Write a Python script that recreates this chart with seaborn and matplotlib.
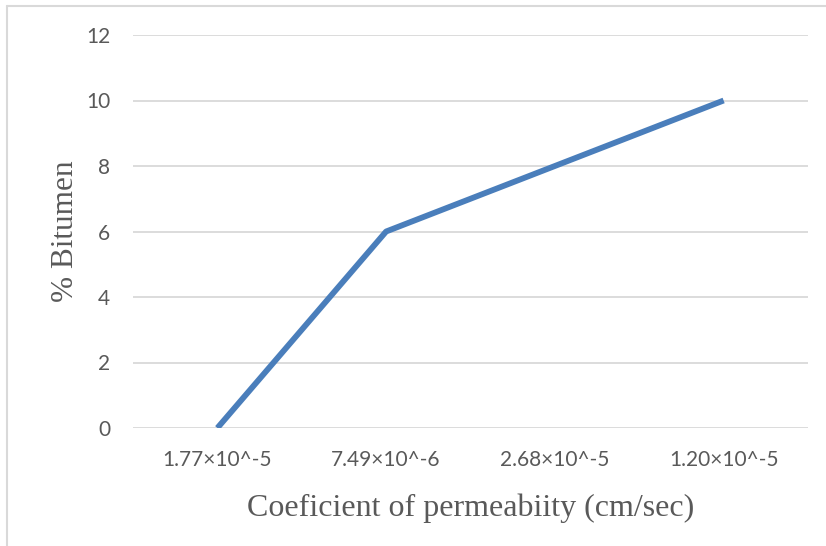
import matplotlib
matplotlib.use("Agg")
import matplotlib.pyplot as plt
import seaborn as sns
import pandas as pd
from matplotlib.lines import Line2D

categories = ["1.77×10^-5", "7.49×10^-6", "2.68×10^-5", "1.20×10^-5"]
bitumen = [0, 6, 8, 10]
y_ticks = [0, 2, 4, 6, 8, 10, 12]

df = pd.DataFrame({"k": categories, "b": bitumen})

sns.set_theme(style="white")
plt.rcParams["font.family"] = ["Lato", "DejaVu Sans"]

fig = plt.figure(figsize=(8.26, 5.46), dpi=100)
ax = fig.add_axes([133/826, 1-428/546, (808-133)/826, (428-35)/546])

sns.lineplot(data=df, x="k", y="b", ax=ax, color="#4a7ebb", linewidth=4.2,
             sort=False, solid_capstyle="butt")

ax.set_xlim(-0.5, 3.5)
ax.set_ylim(0, 12)
ax.set_yticks(y_ticks)
ax.set_yticklabels([str(v) for v in y_ticks])
ax.yaxis.grid(True, color="#d9d9d9", linewidth=1.3)
ax.xaxis.grid(False)
ax.set_axisbelow(True)
for s in ax.spines.values():
    s.set_visible(False)
ax.tick_params(axis="both", length=0, labelsize=15, labelcolor="#595959")
ax.tick_params(axis="x", pad=16)
ax.tick_params(axis="y", pad=16.5)

ax.set_xlabel("Coeficient of permeabiity (cm/sec)", family="Liberation Serif",
              fontsize=23, color="#595959", labelpad=17)
ax.set_ylabel("% Bitumen", family="Liberation Serif", fontsize=22.5,
              color="#595959", labelpad=4)

fig.add_artist(Line2D([7.5/826, 7.5/826], [0, 1-6/546], transform=fig.transFigure,
                      color="#d9d9d9", linewidth=1.5))
fig.add_artist(Line2D([7.5/826, 1], [1-6/546, 1-6/546], transform=fig.transFigure,
                      color="#d9d9d9", linewidth=1.5))

fig.savefig("out.png", dpi=100)
